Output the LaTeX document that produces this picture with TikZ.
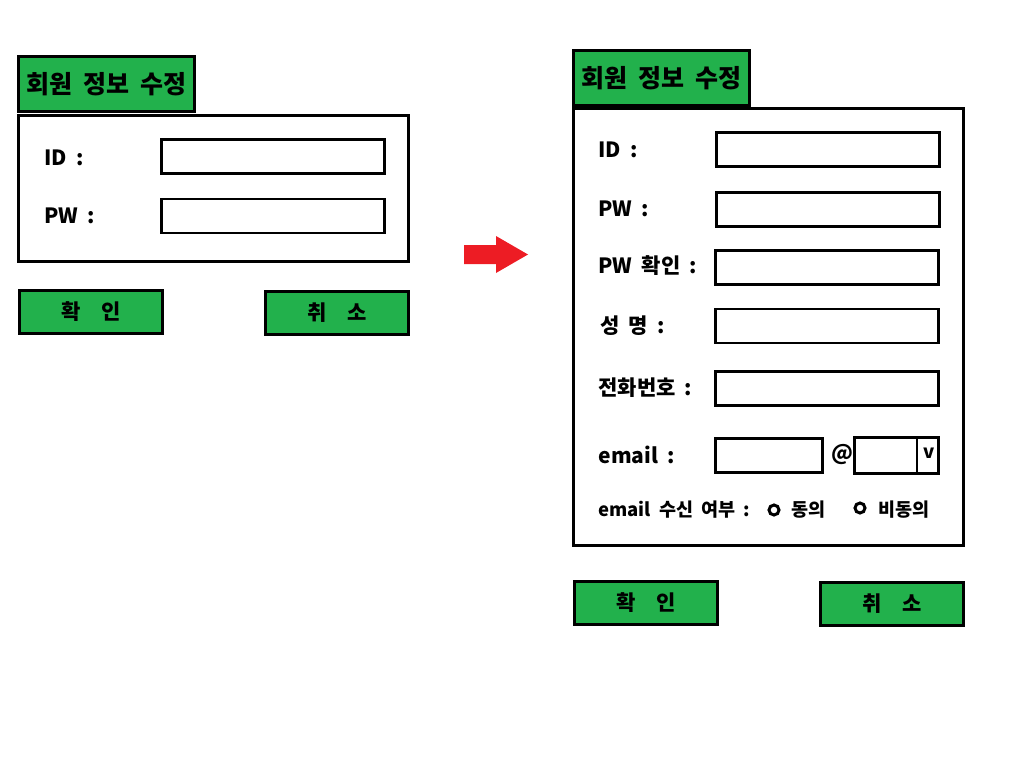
\documentclass[tikz,border=0pt]{standalone}
\usepackage{fontspec}
\setmainfont{Noto Sans CJK KR}[WordSpace=1.9]
\usetikzlibrary{positioning}
\definecolor{formgreen}{HTML}{22B14C}
\definecolor{arrowred}{HTML}{ED1C24}

\begin{document}
\begin{tikzpicture}[x=1pt, y=-1pt, line width=3pt, node distance=103pt,
	frame/.style = {draw, rectangle, inner sep=0pt, outer sep=0pt},
	tab/.style = {frame, fill=formgreen, minimum width=176pt, minimum height=55pt, font=\bfseries\fontsize{25}{28}\selectfont},
	panel/.style = {frame, minimum width=390pt},
	field/.style = {frame, line width=2.5pt, minimum width=223pt, minimum height=34pt},
	label/.style = {anchor=west, inner sep=0pt, font=\bfseries\fontsize{21}{24}\selectfont},
	small/.style = {anchor=west, inner sep=0pt, font=\bfseries\fontsize{18.5}{22}\selectfont},
	btn/.style = {frame, fill=formgreen, minimum width=143pt, minimum height=43pt, font=\bfseries\fontsize{21}{24}\selectfont},
	radio/.style = {draw, circle, line width=3pt, minimum size=10pt, inner sep=0pt}]
	\useasboundingbox (0,0) rectangle (1017,765);
	% left form
	\node[panel, minimum height=146pt] (box1) at (213.5,188.5) {};
	\node[tab] (title1) at (106.5,84.5) {회원 정보 수정};
	\node[label] (id1) at (43,158) {ID :};
	\node[label] (pw1) at (43,216) {PW :};
	\node[field] (idf1) at (273,156.5) {};
	\node[field] (pwf1) at (273,216) {};
	\node[btn] (ok1) at (91,312) {확\quad 인};
	\node[btn] (cancel1) [right=of ok1, yshift=-1pt] {취\quad 소};
	% arrow
	\fill[arrowred] (464,245) -- (496,245) -- (496,236) -- (528,254.5) -- (496,273) -- (496,264) -- (464,264) -- cycle;
	% right form
	\node[panel, minimum height=437pt] (box2) at (768.5,327) {};
	\node[tab] (title2) at (661.5,78) {회원 정보 수정};
	\node[label] (id2) at (597,150) {ID :};
	\node[label] (pw2) at (597,209) {PW :};
	\node[label] (pwc2) at (597,266) {PW 확인 :};
	\node[label] (name2) at (599,326) {성 명 :};
	\node[label] (tel2) at (597,388) {전화번호 :};
	\node[label] (mail2) at (597,455) {email :};
	\node[field] (idf2) at (828,149.5) {};
	\node[field] (pwf2) at (828,209.5) {};
	\node[field] (pwcf2) at (827,267.5) {};
	\node[field] (namef2) at (827,326) {};
	\node[field] (telf2) at (827,388.5) {};
	\node[field, minimum width=107pt] (mailf2) at (769,455.5) {};
	\node[label] (at2) at (830,455) {@};
	\node[field, minimum width=84pt, minimum height=36pt] (domain2) at (896.5,455.5) {};
	\draw[line width=2.5pt] (917,437.5) -- (917,473.5);
	\node[small] (vee2) at (922,453) {v};
	\node[small] (recv2) at (597,510) {email 수신 여부 :};
	\node[radio] (yes2) at (774,510) {};
	\node[small] (yest2) at (790,510) {동의};
	\node[radio] (no2) at (860,508) {};
	\node[small] (not2) at (877,510) {비동의};
	\node[btn] (ok2) at (646,603) {확\quad 인};
	\node[btn] (cancel2) [right=of ok2, yshift=-1pt] {취\quad 소};
\end{tikzpicture}
\end{document}
